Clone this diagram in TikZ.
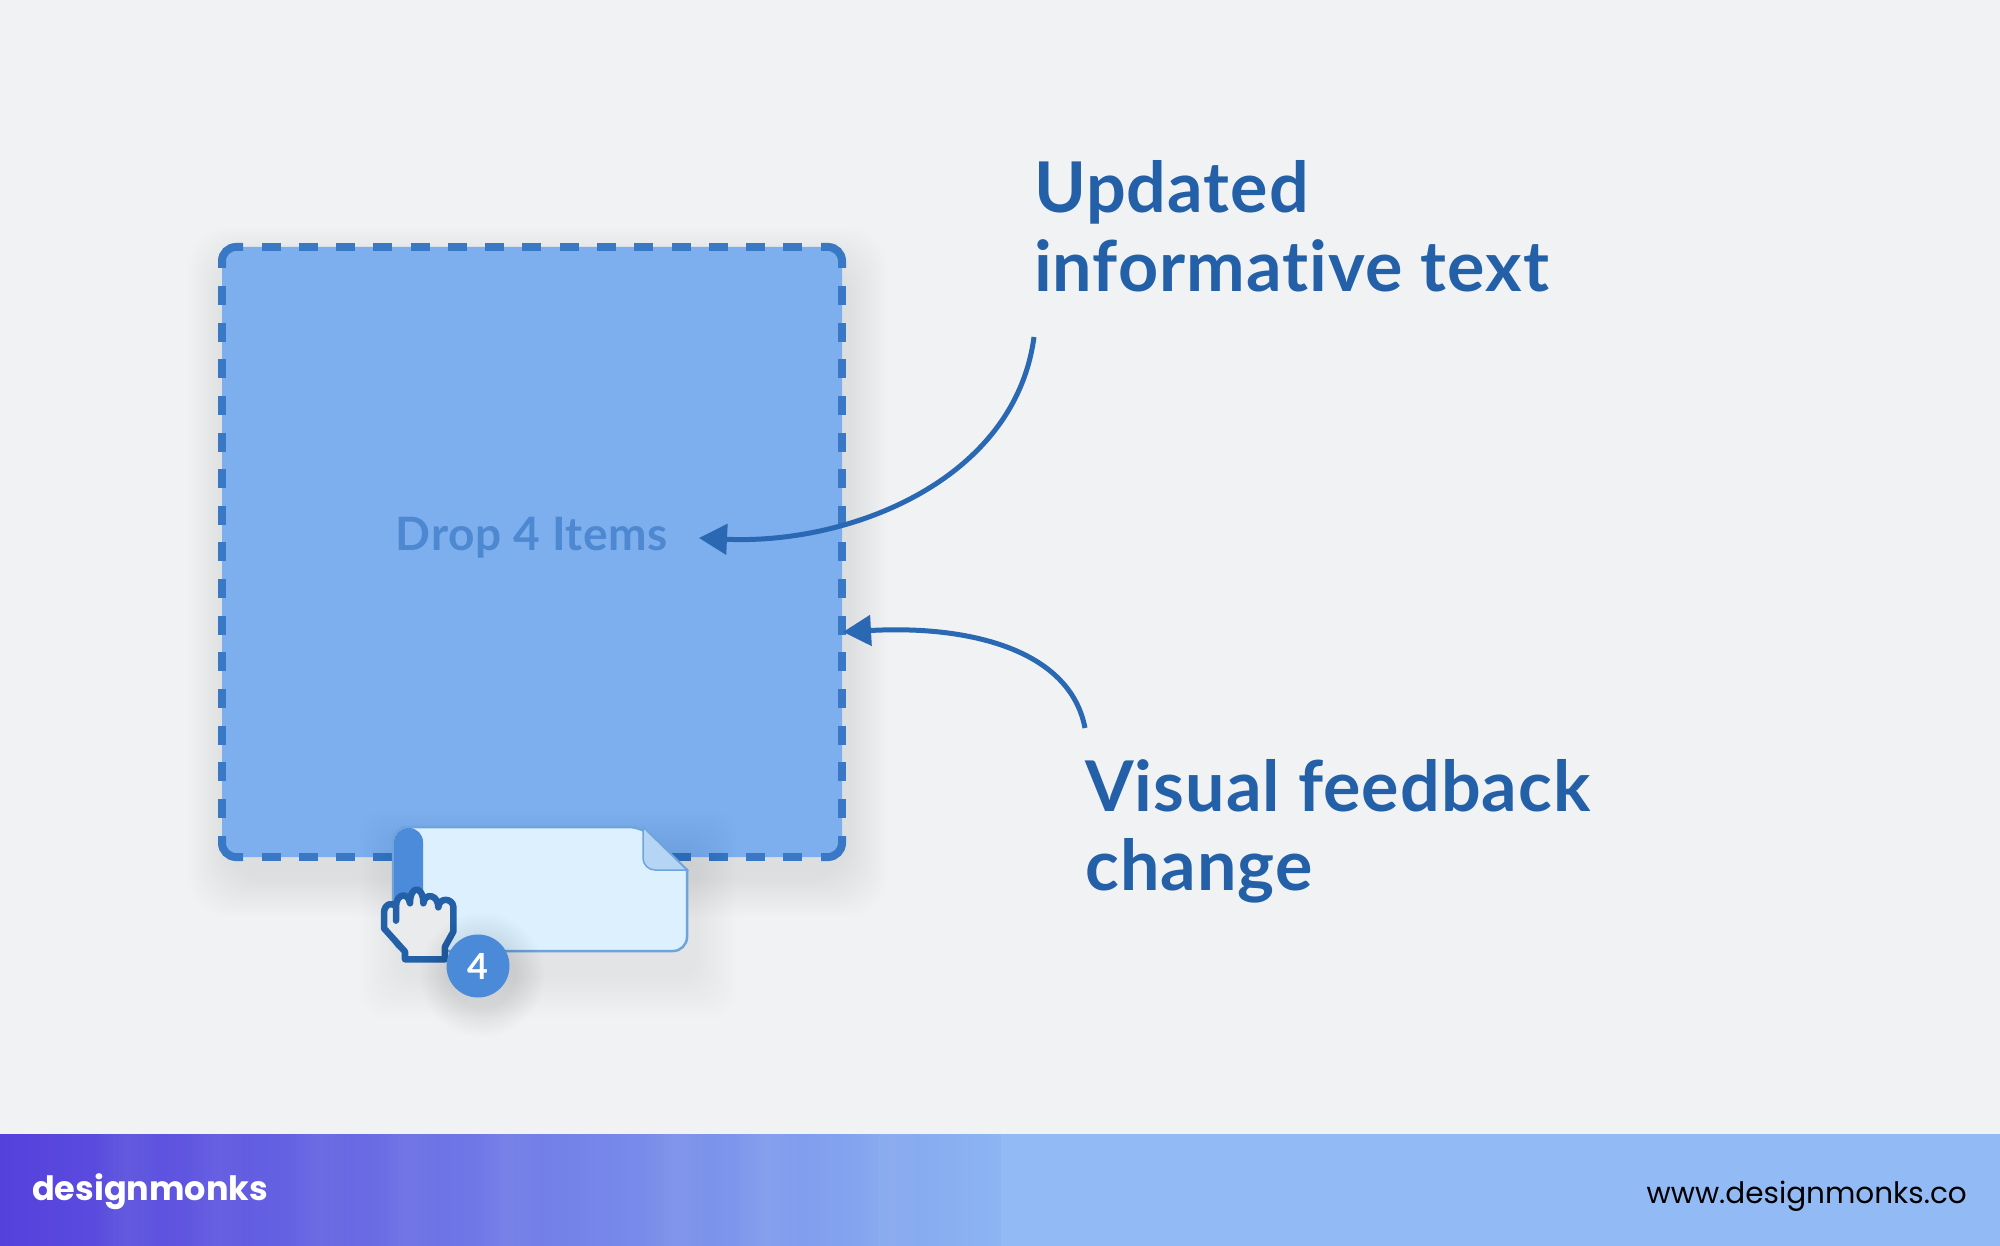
\documentclass[tikz,border=0pt]{standalone}
\usepackage{fontspec}
\setmainfont{Lato}
\newfontfamily\logofont{Poppins}
\newfontfamily\headfont[LetterSpace=1.5,Ligatures=NoCommon]{Lato}
\usetikzlibrary{arrows.meta}
\definecolor{pagebg}{HTML}{F0F2F4}
\definecolor{zonefill}{HTML}{7DAFEE}
\definecolor{zoneline}{HTML}{3878C4}
\definecolor{headblue}{HTML}{2460A8}
\definecolor{arrowblue}{HTML}{2A68B4}
\definecolor{sheetfill}{HTML}{DCF0FD}
\definecolor{sheetline}{HTML}{6EA4DC}
\definecolor{spineblue}{HTML}{4C8ADA}
\definecolor{foldblue}{HTML}{B6D4F4}
\definecolor{badgeblue}{HTML}{4A8AD8}
\definecolor{handblue}{HTML}{2460A8}
\definecolor{footleft}{HTML}{5540DC}
\definecolor{footmid}{HTML}{8CB5F2}
\definecolor{footright}{HTML}{92BBF5}
\tikzset{
  heading/.style={anchor=west, align=left, inner sep=0pt, text=headblue,
    font=\fontsize{70}{79}\headfont\bfseries},
  callout/.style={draw=arrowblue, line width=5pt, -{Triangle[length=28pt,width=30pt]}},
  zoneedge/.style={draw=zoneline, line width=8pt},
  zonedash/.style={zoneedge, dash pattern=on 19pt off 18.27pt},
}
\begin{document}
\begin{tikzpicture}[x=1pt, y=-1pt]
\fill[pagebg] (0,0) rectangle (2000,1246);
\useasboundingbox (0,0) rectangle (2000,1246);
% footer
\shade[left color=footleft, right color=footmid] (0,1134) rectangle (1001,1246);
\fill[footright] (1001,1134) rectangle (2000,1246);
\foreach \x in {128,217,319,408,510,676,765,893}
  \foreach \i in {1,...,6}
    \fill[white, opacity=.012] (\x-\i*5,1134) rectangle (\x+\i*5,1246);
\node[anchor=west, inner sep=0pt, text=white, font=\fontsize{33.5}{38}\logofont\bfseries] (logo) at (32,1192) {designmonks};
\node[anchor=east, inner sep=0pt, text=black, font=\fontsize{29.5}{34}\logofont] (site) at (1967,1196) {www.designmonks.co};
% soft shadows
\foreach \xa/\ya/\xb/\yb in {1050/205/1310/235, 1050/285/1540/315, 1100/805/1590/835, 1100/885/1310/915}
  \foreach \i in {1,...,12}
    \fill[black, opacity=.0016, rounded corners=22pt] (\xa-\i*4,\ya-\i*4) rectangle (\xb+\i*4,\yb+\i*4);
\foreach \i in {1,...,20}
  \fill[black, opacity=.005, rounded corners=40pt] (222-\i*2+6,247-\i*2+20) rectangle (842+\i*2+6,857+\i*2+20);
% drop zone
\node[fill=zonefill, rounded corners=14pt, minimum width=620pt, minimum height=610pt, inner sep=0pt] (zone) at (532,552) {};
\draw[zoneedge, rounded corners=14pt] (222,268) -- (222,247) -- (243,247);
\draw[zoneedge, rounded corners=14pt] (821,247) -- (842,247) -- (842,268);
\draw[zoneedge, rounded corners=14pt] (842,836) -- (842,857) -- (821,857);
\draw[zoneedge, rounded corners=14pt] (243,857) -- (222,857) -- (222,836);
\draw[zonedash] (261.6,247) -- (802.4,247);
\draw[zonedash] (261.6,857) -- (802.4,857);
\draw[zonedash, dash pattern=on 19pt off 17.64pt] (222,286) -- (222,818);
\draw[zonedash, dash pattern=on 19pt off 17.64pt] (842,286) -- (842,818);
\node[text=zoneline!70!zonefill, inner sep=0pt, font=\fontsize{46}{52}\headfont\bfseries] (dropText) at (532,538) {Drop 4 Items};
% labels
\node[heading] (updatedText) at (1034,226) {Updated\\informative text};
\node[heading] (feedbackText) at (1085,831) {Visual feedback\\change};
% connectors
\coordinate (updatedEnd) at (1034,337);
\coordinate (dropTip) at (699,538);
\coordinate (feedbackEnd) at (1085,728);
\coordinate (zoneTip) at (843,632);
\draw[callout] (updatedEnd) .. controls (1015,480) and (850,545) .. (dropTip);
\draw[callout] (feedbackEnd) .. controls (1070,650) and (970,625) .. (zoneTip);
% dragged sheet
\foreach \i in {1,...,14}
  \fill[black, opacity=.005, rounded corners=24pt] (393-\i*3+8,827-\i*3+25) rectangle (687+\i*3+8,951+\i*3+25);
\draw[fill=sheetfill, draw=sheetline, line width=2.5pt, rounded corners=14pt]
  (393,827) -- (643,827) [sharp corners] -- (687,870) [rounded corners=14pt] -- (687,951) -- (393,951) -- cycle;
\fill[spineblue, rounded corners=14pt] (394,828) -- (423,828) [sharp corners] -- (423,920) -- (394,920) [rounded corners=14pt] -- cycle;
\draw[fill=foldblue, draw=sheetline, line width=1.5pt, rounded corners=12pt]
  (643,827) [sharp corners] -- (687,870) [rounded corners=12pt] -- (643,870) [sharp corners] -- cycle;
% hand
\begin{scope}[shift={(360,800)}, x=.3333pt, y=-.3333pt]
\draw[fill=pagebg!97!black, draw=handblue, line width=6.5pt, line cap=round, line join=round]
  (108,362) -- (108,320) .. controls (100,305) and (72,310) .. (72,340) -- (72,385)
  -- (135,455) -- (135,478) -- (255,478) -- (255,440) -- (280,395) -- (280,320)
  .. controls (278,295) and (238,290) .. (235,322)
  .. controls (235,285) and (195,275) .. (190,310)
  .. controls (190,255) and (150,255) .. (150,310)
  .. controls (145,275) and (108,280) .. (108,320);
\end{scope}
% badge
\foreach \i in {1,...,12}
  \fill[black, opacity=.006] (482,975) circle (32pt+\i*2.5pt);
\node[circle, fill=badgeblue, minimum size=63pt, inner sep=0pt, text=white, font=\fontsize{36}{40}\headfont\bfseries] (badge) at (478,966) {4};
\end{tikzpicture}
\end{document}
